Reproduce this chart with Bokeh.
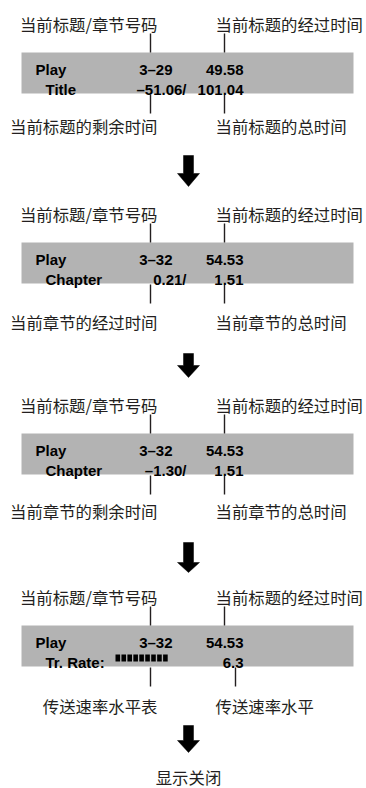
from bokeh.plotting import figure
from bokeh.models import Range1d
from bokeh.core.properties import value
from bokeh.embed import file_html
from bokeh.resources import INLINE

# ---- content ----
top_left_labels = ["当前标题/章节号码", "当前标题/章节号码", "当前标题/章节号码", "当前标题/章节号码"]
top_right_labels = ["当前标题的经过时间", "当前标题的经过时间", "当前标题的经过时间", "当前标题的经过时间"]
bottom_left_labels = ["当前标题的剩余时间", "当前章节的经过时间", "当前章节的剩余时间", "传送速率水平表"]
bottom_right_labels = ["当前标题的总时间", "当前章节的总时间", "当前章节的总时间", "传送速率水平"]
row1_mode = ["Play", "Play", "Play", "Play"]
row1_track = ["3–29", "3–32", "3–32", "3–32"]
row1_time = ["49.58", "54.53", "54.53", "54.53"]
row2_label = ["Title", "Chapter", "Chapter", "Tr. Rate:"]
row2_left = ["–51.06/", "0.21/", "–1.30/", ""]
row2_right = ["101.04", "1.51", "1.51", "6.3"]
rate_meter_blocks = 9
final_label = "显示关闭"

# ---- layout (pixel coordinates of the page) ----
bar_tops = [52, 242, 433, 625]
bottom_label_y = [125, 321, 510, 705]
bottom_right_line_x = [224, 224, 224, 235]
arrow_y = [(155, 173, 186), (353, 365, 377), (542, 562, 572), (725, 740, 752)]

W, H = 366, 788
p = figure(width=W, height=H, output_backend="svg", toolbar_location=None,
           x_range=Range1d(0, W), y_range=Range1d(H, 0),
           x_axis_type=None, y_axis_type=None, min_border=0,
           background_fill_color="white", border_fill_color="white")
p.grid.visible = False
p.outline_line_color = None

CJK = value("Noto Sans CJK SC")
LAT = value("Liberation Sans")
TXT = "#231f20"
BAR = "#b3b3b3"
CJK_SIZE = "16.4px"

for i, B in enumerate(bar_tops):
    # grey display bar
    p.quad(left=21, right=353, top=B, bottom=B + 41, fill_color=BAR, line_color=None)
    # top callout labels
    p.text(x=[157], y=[B - 29], text=[top_left_labels[i]], text_font=CJK, text_font_size=CJK_SIZE,
           text_align="right", text_baseline="middle", text_color=TXT)
    p.text(x=[215], y=[B - 29], text=[top_right_labels[i]], text_font=CJK, text_font_size=CJK_SIZE,
           text_align="left", text_baseline="middle", text_color=TXT)
    # leader lines
    p.segment(x0=[150, 224], y0=[B - 19, B - 19], x1=[150, 224], y1=[B, B], line_color=TXT, line_width=1.4)
    p.segment(x0=[150, bottom_right_line_x[i]], y0=[B + 42, B + 42],
              x1=[150, bottom_right_line_x[i]], y1=[B + 61, B + 61], line_color=TXT, line_width=1.4)
    # bottom callout labels
    p.text(x=[157], y=[bottom_label_y[i]], text=[bottom_left_labels[i]], text_font=CJK, text_font_size=CJK_SIZE,
           text_align="right", text_baseline="middle", text_color=TXT)
    p.text(x=[215], y=[bottom_label_y[i]], text=[bottom_right_labels[i]], text_font=CJK, text_font_size=CJK_SIZE,
           text_align="left", text_baseline="middle", text_color=TXT)
    # display texts
    p.text(x=[35], y=[B + 17], text=[row1_mode[i]], text_font=LAT, text_font_style="bold",
           text_font_size="15px", text_align="left", text_baseline="alphabetic", text_color="black")
    p.text(x=[172], y=[B + 17], text=[row1_track[i]], text_font=LAT, text_font_style="bold",
           text_font_size="15px", text_align="right", text_baseline="alphabetic", text_color="black")
    p.text(x=[243], y=[B + 17], text=[row1_time[i]], text_font=LAT, text_font_style="bold",
           text_font_size="15px", text_align="right", text_baseline="alphabetic", text_color="black")
    p.text(x=[45], y=[B + 37], text=[row2_label[i]], text_font=LAT, text_font_style="bold",
           text_font_size="15px", text_align="left", text_baseline="alphabetic", text_color="black")
    if row2_left[i]:
        p.text(x=[186], y=[B + 37], text=[row2_left[i]], text_font=LAT, text_font_style="bold",
               text_font_size="15px", text_align="right", text_baseline="alphabetic", text_color="black")
    p.text(x=[243], y=[B + 37], text=[row2_right[i]], text_font=LAT, text_font_style="bold",
           text_font_size="15px", text_align="right", text_baseline="alphabetic", text_color="black")
    if row2_label[i].startswith("Tr."):
        lefts = [115 + k * 5.95 for k in range(rate_meter_blocks)]
        p.quad(left=lefts, right=[l + 4.6 for l in lefts], top=B + 29, bottom=B + 36,
               fill_color="black", line_color=None)

# arrows between states
for (st, ht, tip) in arrow_y:
    p.patch(x=[183, 193, 193, 199, 188, 177, 183],
            y=[st, st, ht, ht, tip, ht, ht], fill_color="black", line_color="black", line_width=0.5)

p.text(x=[188], y=[776], text=[final_label], text_font=CJK, text_font_size=CJK_SIZE,
       text_align="center", text_baseline="middle", text_color=TXT)

open("out.html", "w").write(file_html(p, INLINE))
